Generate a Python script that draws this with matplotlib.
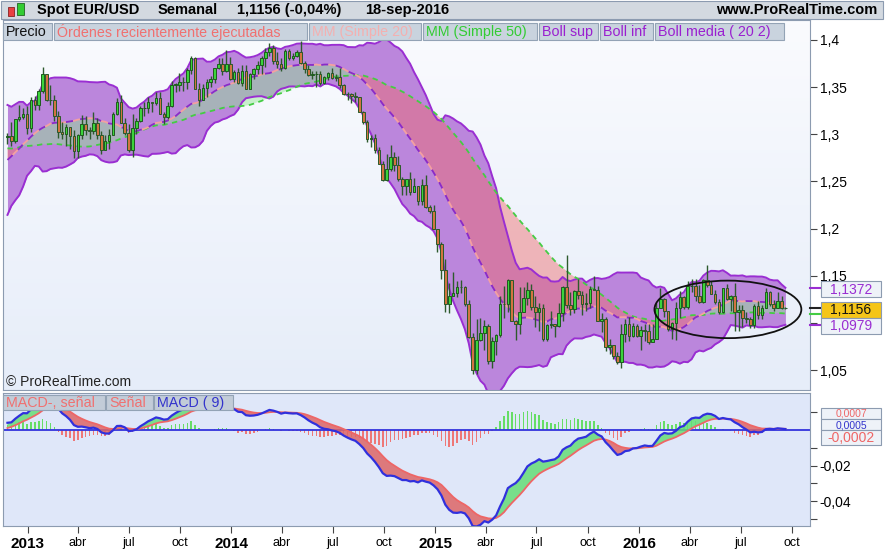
import numpy as np
import pandas as pd
import matplotlib
matplotlib.use("Agg")
import matplotlib.pyplot as plt
import matplotlib.dates as mdates
from matplotlib.patches import Ellipse, Rectangle
from matplotlib.colors import LinearSegmentedColormap
from matplotlib.ticker import FuncFormatter, FixedLocator
from matplotlib.transforms import blended_transform_factory

plt.rcParams['font.family'] = ['Liberation Sans', 'DejaVu Sans']

# weekly closes Dec 2011 - Nov 2012, not drawn, only to seed the indicators
warmup_close = [1.3390, 1.3385, 1.3040, 1.3045, 1.2960, 1.2715, 1.2680, 1.2930, 1.3215, 1.3155,
                1.3195, 1.3240, 1.3450, 1.3210, 1.3120, 1.3175, 1.3270, 1.3345, 1.3100, 1.3075,
                1.3225, 1.3235, 1.3085, 1.2920, 1.2780, 1.2515, 1.2435, 1.2515, 1.2640, 1.2570,
                1.2665, 1.2290, 1.2245, 1.2155, 1.2315, 1.2390, 1.2290, 1.2330, 1.2515, 1.2575,
                1.2815, 1.3125, 1.2980, 1.2860, 1.3035, 1.2955, 1.3025, 1.2945, 1.2835, 1.2710,
                1.2745, 1.2975]

first_week = "2012-11-26"
first_open = 1.2975

close = [1.2985, 1.2925, 1.3160, 1.3180, 1.3215,
         # 2013
         1.3070, 1.3365, 1.3315, 1.3460, 1.3640, 1.3365, 1.3360, 1.3190, 1.3020, 1.3005,
         1.3075, 1.2985, 1.2820, 1.2995, 1.3110, 1.3050, 1.3030, 1.3115, 1.2995, 1.2835,
         1.2930, 1.2995, 1.3220, 1.3345, 1.3120, 1.3010, 1.2830, 1.3065, 1.3140, 1.3280,
         1.3280, 1.3340, 1.3330, 1.3380, 1.3220, 1.3180, 1.3295, 1.3525, 1.3525, 1.3555,
         1.3550, 1.3685, 1.3805, 1.3485, 1.3365, 1.3495, 1.3555, 1.3590, 1.3705, 1.3745,
         1.3675, 1.3745,
         # 2014
         1.3590, 1.3665, 1.3540, 1.3675, 1.3485, 1.3635, 1.3690, 1.3740, 1.3805, 1.3875,
         1.3910, 1.3780, 1.3750, 1.3705, 1.3885, 1.3810, 1.3830, 1.3870, 1.3755, 1.3695,
         1.3630, 1.3635, 1.3640, 1.3545, 1.3605, 1.3645, 1.3595, 1.3605, 1.3525, 1.3430,
         1.3425, 1.3410, 1.3400, 1.3240, 1.3130, 1.2950, 1.2965, 1.2830, 1.2685, 1.2515,
         1.2630, 1.2760, 1.2670, 1.2525, 1.2455, 1.2525, 1.2390, 1.2450, 1.2290, 1.2465,
         1.2225, 1.2185,
         # 2015
         1.2000, 1.1840, 1.1565, 1.1205, 1.1290, 1.1315, 1.1385, 1.1380, 1.1195, 1.0845,
         1.0495, 1.0820, 1.0890, 1.0970, 1.0600, 1.0805, 1.0875, 1.1200, 1.1200, 1.1450,
         1.1015, 1.0985, 1.1110, 1.1265, 1.1350, 1.1165, 1.1110, 1.1160, 1.0830, 1.0980,
         1.0985, 1.0965, 1.1105, 1.1385, 1.1185, 1.1150, 1.1340, 1.1300, 1.1195, 1.1215,
         1.1360, 1.1350, 1.1015, 1.1045, 1.0740, 1.0770, 1.0645, 1.0590, 1.0880, 1.0990,
         1.0865, 1.0965,
         # 2016
         1.0865, 1.0925, 1.0915, 1.0795, 1.0830, 1.1160, 1.1255, 1.1130, 1.0935, 1.1000,
         1.1155, 1.1270, 1.1165, 1.1390, 1.1395, 1.1285, 1.1225, 1.1455, 1.1405, 1.1310,
         1.1225, 1.1115, 1.1365, 1.1255, 1.1280, 1.1115, 1.1135, 1.1050, 1.1040, 1.0975,
         1.1175, 1.1085, 1.1160, 1.1325, 1.1200, 1.1155, 1.1235, 1.1160, 1.1156]

high = [1.3015, 1.3125, 1.3165, 1.3310, 1.3275,
        1.3300, 1.3400, 1.3405, 1.3480, 1.3711, 1.3640, 1.3520, 1.3420, 1.3250, 1.3130,
        1.3110, 1.3000, 1.3050, 1.3000, 1.3200, 1.3190, 1.3080, 1.3240, 1.3175, 1.3030,
        1.2995, 1.3060, 1.3240, 1.3390, 1.3415, 1.3175, 1.3110, 1.3210, 1.3175, 1.3300,
        1.3345, 1.3400, 1.3345, 1.3450, 1.3450, 1.3240, 1.3340, 1.3570, 1.3545, 1.3645,
        1.3610, 1.3705, 1.3830, 1.3815, 1.3545, 1.3530, 1.3585, 1.3620, 1.3705, 1.3810,
        1.3810, 1.3895,
        1.3815, 1.3685, 1.3700, 1.3740, 1.3740, 1.3645, 1.3700, 1.3775, 1.3825, 1.3915,
        1.3967, 1.3945, 1.3875, 1.3810, 1.3905, 1.3905, 1.3865, 1.3890, 1.3993, 1.3775,
        1.3735, 1.3670, 1.3670, 1.3675, 1.3615, 1.3665, 1.3700, 1.3640, 1.3700, 1.3530,
        1.3445, 1.3435, 1.3445, 1.3390, 1.3245, 1.3155, 1.2990, 1.3000, 1.2860, 1.2715,
        1.2790, 1.2885, 1.2815, 1.2765, 1.2545, 1.2510, 1.2600, 1.2535, 1.2455, 1.2530,
        1.2570, 1.2255,
        1.2245, 1.1970, 1.1860, 1.1680, 1.1425, 1.1535, 1.1445, 1.1450, 1.1390, 1.1245,
        1.0890, 1.1045, 1.1050, 1.1035, 1.0990, 1.0850, 1.0880, 1.1290, 1.1390, 1.1465,
        1.1445, 1.1030, 1.1385, 1.1385, 1.1435, 1.1410, 1.1280, 1.1215, 1.1200, 1.0985,
        1.1130, 1.0990, 1.1215, 1.1390, 1.1715, 1.1330, 1.1345, 1.1460, 1.1335, 1.1320,
        1.1390, 1.1495, 1.1390, 1.1100, 1.1060, 1.0830, 1.0765, 1.0695, 1.0985, 1.1045,
        1.1060, 1.0995,
        1.0990, 1.0970, 1.0990, 1.0990, 1.0985, 1.1215, 1.1375, 1.1260, 1.1130, 1.1010,
        1.1220, 1.1340, 1.1285, 1.1440, 1.1465, 1.1465, 1.1400, 1.1460, 1.1615, 1.1445,
        1.1350, 1.1250, 1.1375, 1.1415, 1.1300, 1.1425, 1.1190, 1.1185, 1.1120, 1.1060,
        1.1200, 1.1235, 1.1190, 1.1365, 1.1340, 1.1240, 1.1330, 1.1285, 1.1165]

low = [1.2900, 1.2875, 1.2905, 1.3145, 1.3160,
       1.3000, 1.3025, 1.3255, 1.3260, 1.3440, 1.3350, 1.3310, 1.3145, 1.2965, 1.2955,
       1.2880, 1.2845, 1.2750, 1.2745, 1.2955, 1.2995, 1.2950, 1.3000, 1.2955, 1.2795,
       1.2840, 1.2845, 1.3000, 1.3205, 1.3115, 1.2990, 1.2810, 1.2755, 1.3005, 1.3125,
       1.3190, 1.3230, 1.3235, 1.3315, 1.3215, 1.3105, 1.3165, 1.3285, 1.3445, 1.3460,
       1.3460, 1.3475, 1.3640, 1.3475, 1.3295, 1.3370, 1.3400, 1.3500, 1.3540, 1.3695,
       1.3625, 1.3665,
       1.3575, 1.3550, 1.3530, 1.3510, 1.3480, 1.3475, 1.3590, 1.3640, 1.3640, 1.3710,
       1.3830, 1.3750, 1.3705, 1.3675, 1.3695, 1.3790, 1.3785, 1.3815, 1.3750, 1.3650,
       1.3615, 1.3585, 1.3505, 1.3525, 1.3535, 1.3575, 1.3585, 1.3570, 1.3490, 1.3420,
       1.3365, 1.3335, 1.3345, 1.3240, 1.3110, 1.2920, 1.2860, 1.2800, 1.2680, 1.2500,
       1.2500, 1.2615, 1.2615, 1.2500, 1.2360, 1.2355, 1.2360, 1.2385, 1.2245, 1.2245,
       1.2220, 1.2165,
       1.2000, 1.1755, 1.1460, 1.1115, 1.1100, 1.1290, 1.1270, 1.1315, 1.1175, 1.0840,
       1.0460, 1.0460, 1.0810, 1.0715, 1.0565, 1.0520, 1.0660, 1.0845, 1.1050, 1.1110,
       1.1015, 1.0820, 1.0885, 1.1130, 1.1185, 1.1135, 1.0955, 1.0915, 1.0810, 1.0810,
       1.0950, 1.0850, 1.0960, 1.1015, 1.1155, 1.1085, 1.1105, 1.1255, 1.1085, 1.1125,
       1.1160, 1.1345, 1.1015, 1.0900, 1.0705, 1.0675, 1.0615, 1.0565, 1.0525, 1.0795,
       1.0805, 1.0850,
       1.0850, 1.0710, 1.0805, 1.0775, 1.0810, 1.0855, 1.1160, 1.1065, 1.0910, 1.0825,
       1.0820, 1.1055, 1.1145, 1.1145, 1.1330, 1.1235, 1.1215, 1.1215, 1.1380, 1.1310,
       1.1200, 1.1095, 1.1100, 1.1245, 1.1130, 1.0910, 1.0910, 1.0955, 1.1000, 1.0950,
       1.0950, 1.1045, 1.1045, 1.1155, 1.1180, 1.1125, 1.1155, 1.1150, 1.1150]

header_items = ["Spot EUR/USD", "Semanal", "1,1156 (-0,04%)", "18-sep-2016"]
legend_items = [("Precio", "#111111"), ("Órdenes recientemente ejecutadas", "#f07070"),
                ("MM (Simple 20)", "#f4b0b0"), ("MM (Simple 50)", "#33cc33"),
                ("Boll sup", "#9a1fd0"), ("Boll inf", "#9a1fd0"), ("Boll media ( 20 2)", "#9a1fd0")]
macd_legend = [("MACD-, señal", "#f07070"), ("Señal", "#f07070"), ("MACD ( 9)", "#3333cc")]
price_ticks = [1.05, 1.1, 1.15, 1.2, 1.25, 1.3, 1.35, 1.4]
month_names = {1: None, 4: "abr", 7: "jul", 10: "oct"}

# ---- indicators
n_warm = len(warmup_close)
allc = pd.Series(warmup_close + close)
ma20 = allc.rolling(20).mean()
sd20 = allc.rolling(20).std(ddof=0)
ma50 = allc.rolling(50).mean()
macd = allc.ewm(span=12, adjust=False).mean() - allc.ewm(span=26, adjust=False).mean()
signal = macd.ewm(span=9, adjust=False).mean()

ma20 = ma20.values[n_warm:]
sd20 = sd20.values[n_warm:]
ma50 = ma50.values[n_warm:]
macd = macd.values[n_warm:]
signal = signal.values[n_warm:]
upper = ma20 + 2 * sd20
lower = ma20 - 2 * sd20
hist = macd - signal

c = np.array(close)
h = np.array(high)
l = np.array(low)
o = np.r_[first_open, c[:-1]]  # a weekly FX bar opens where the last one closed
dates = pd.date_range(first_week, periods=len(c), freq="7D")
x = mdates.date2num(dates)

W, H = 885, 554
fig = plt.figure(figsize=(W / 100, H / 100), dpi=100)
fig.patch.set_facecolor("white")


def fx(px):
    return px / W


def fy(py):
    return 1 - py / H


def fig_rect(x0, y0, x1, y1, fc, ec="none", lw=0.8, z=1):
    r = Rectangle((fx(x0), fy(y1)), fx(x1 - x0), (y1 - y0) / H, transform=fig.transFigure,
                  facecolor=fc, edgecolor=ec, linewidth=lw, zorder=z)
    fig.add_artist(r)


ax = fig.add_axes([fx(3), fy(390), fx(807), 370 / H])
ax2 = fig.add_axes([fx(3), fy(526), fx(807), 133 / H])

xmin = mdates.date2num(pd.Timestamp("2012-11-18"))
xmax = xmin + 1445

# background gradient of the price panel
cmap_bg = LinearSegmentedColormap.from_list("bg", ["#e6edf9", "#fafbfe"])
ax.imshow(np.linspace(0, 1, 100).reshape(-1, 1), cmap=cmap_bg, origin="lower", aspect="auto",
          extent=[0, 1, 0, 1], transform=ax.transAxes, zorder=0)

# Bollinger band and moving-average fills
ax.fill_between(x, lower, upper, color="#bb86dc", lw=0, zorder=1)
ax.fill_between(x, ma20, ma50, where=ma20 >= ma50, interpolate=True, color="#8fe88f",
                alpha=0.45, lw=0, zorder=2)
ax.fill_between(x, ma20, ma50, where=ma20 < ma50, interpolate=True, color="#f06a6a",
                alpha=0.45, lw=0, zorder=2)
ax.plot(x, upper, color="#9a2ed2", lw=1.4, zorder=3)
ax.plot(x, lower, color="#9a2ed2", lw=1.4, zorder=3)
ax.plot(x, ma50, color="#44cc44", lw=1.3, dashes=(3, 2.5), zorder=3)
ax.plot(x, ma20, color="#8a2bc8", lw=1.3, dashes=(4, 4), zorder=3)
ax.plot(x, ma20, color="#f4a0a0", lw=1.3, dashes=(0, 4, 4, 0), zorder=3)

# candles
up = c >= o
ax.vlines(x, l, h, color="#2d5a2d", lw=1.0, zorder=4)
body_lo = np.minimum(o, c)
body_h = np.maximum(np.abs(c - o), 0.0004)
ax.bar(x[up], body_h[up], bottom=body_lo[up], width=4.6, color="#3bd43b",
       edgecolor="#1f5a1f", lw=0.7, zorder=5)
ax.bar(x[~up], body_h[~up], bottom=body_lo[~up], width=4.6, color="#d27440",
       edgecolor="#2a5a2a", lw=0.7, zorder=5)

ax.add_patch(Ellipse((mdates.date2num(pd.Timestamp("2016-06-08")), 1.1143), 263, 0.061,
                     fill=False, ec="#111111", lw=1.3, zorder=6))

ax.set_xlim(xmin, xmax)
ax.set_ylim(1.0288, 1.4212)
comma = FuncFormatter(lambda v, p: ("%g" % round(v, 4)).replace(".", ","))
ax.yaxis.tick_right()
ax.yaxis.set_major_locator(FixedLocator(price_ticks))
# the 1,1 label sits under the last-value boxes
ax.yaxis.set_major_formatter(FuncFormatter(
    lambda v, p: "" if abs(v - 1.1) < 1e-9 else ("%g" % round(v, 4)).replace(".", ",")))
ax.tick_params(axis="y", direction="out", length=5, width=0.8, color="#444444",
               labelsize=10, pad=2)
ax.set_xticks([])
for s in ax.spines.values():
    s.set_color("#8c9bb0")
ax.text(0.004, 0.012, "© ProRealTime.com", transform=ax.transAxes, fontsize=10,
        color="#222222", zorder=7)

# marks of the last values on the price axis
bt = blended_transform_factory(ax.transAxes, ax.transData)
for yv, col in [(upper[-1], "#9a2ed2"), (c[-1], "#222222"), (ma50[-1], "#44cc44"),
                (lower[-1], "#9a2ed2")]:
    ax.plot([1.0, 1.012], [yv, yv], transform=bt, color=col, lw=1.5, clip_on=False, zorder=8)

# ---- MACD panel
ax2.set_facecolor("#dfe7f9")
ax2.axhline(0, color="#3333dd", lw=1.3, zorder=2)
ax2.bar(x, hist, width=2.8, color=np.where(hist >= 0, "#66dd66", "#ee7777"), lw=0, zorder=1)
ax2.fill_between(x, macd, signal, where=macd >= signal, interpolate=True, color="#66dd77",
                 alpha=0.85, lw=0, zorder=3)
ax2.fill_between(x, macd, signal, where=macd < signal, interpolate=True, color="#dd6666",
                 alpha=0.85, lw=0, zorder=3)
ax2.plot(x, signal, color="#ee6666", lw=1.3, zorder=4)
ax2.plot(x, macd, color="#3030dd", lw=1.6, zorder=5)
ax2.set_xlim(xmin, xmax)
ax2.set_ylim(-0.054, 0.0208)
ax2.yaxis.tick_right()
ax2.yaxis.set_major_locator(FixedLocator([-0.04, -0.02]))
ax2.yaxis.set_minor_locator(FixedLocator([0.01, -0.01, -0.03, -0.05]))
ax2.yaxis.set_major_formatter(comma)
ax2.tick_params(axis="y", which="both", direction="out", length=5, width=0.8,
                color="#444444", labelsize=10, pad=2)
ticks = [mdates.date2num(pd.Timestamp(yy, mm, 1)) for yy in range(2013, 2017)
         for mm in (1, 4, 7, 10)]
labels = [str(mdates.num2date(t).year) if month_names[mdates.num2date(t).month] is None
          else month_names[mdates.num2date(t).month] for t in ticks]
ax2.set_xticks(ticks)
ax2.set_xticklabels(labels)
ax2.tick_params(axis="x", direction="out", length=5, width=0.8, color="#444444", pad=3)
for t, lab in zip(ax2.get_xticklabels(), labels):
    if lab.isdigit():
        t.set_fontweight("bold")
        t.set_fontsize(11)
    else:
        t.set_fontsize(9)
for s in ax2.spines.values():
    s.set_color("#8c9bb0")

# ---- header bar
fig_rect(1, 1, 883, 19, "#d3d9e0", ec="#8c9bb0", z=1)
fig_rect(8, 7, 14, 16, "#e84040", ec="#882222", lw=0.6, z=2)
fig_rect(17, 3, 24, 15, "#33cc33", ec="#226622", lw=0.6, z=2)
hx = [37, 158, 237, 365]
for xp, txt in zip(hx, header_items):
    fig.text(fx(xp), fy(10), txt, fontsize=10.5, fontweight="bold", va="center", ha="left")
fig.text(fx(877), fy(10), "www.ProRealTime.com", fontsize=10.5, fontweight="bold",
         va="center", ha="right")

# legend boxes of the price panel
lx = [3, 54, 309, 423, 539, 600, 655, 786]
for i, (txt, col) in enumerate(legend_items):
    fig_rect(lx[i], 23, lx[i + 1] - 2, 40, "#c9d3de", ec="#93a3b5", z=2)
    fig.text(fx(lx[i] + 3), fy(32), txt, fontsize=10.3, color=col, va="center", ha="left",
             zorder=3)

# legend boxes of the MACD panel
mx = [3, 106, 154, 234]
for i, (txt, col) in enumerate(macd_legend):
    fig_rect(mx[i], 395, mx[i + 1] - 1, 410, "#c2ccd8", ec="#93a3b5", z=2)
    fig.text(fx(mx[i] + 3), fy(403), txt, fontsize=10.3, color=col, va="center", ha="left",
             zorder=3)

# last-value boxes on the right
for y0, y1, txt, fc, tc, fs in [(281, 297, "1,1372", "#eef2f8", "#9a2ed2", 10),
                                (302, 318, "1,1156", "#f5c518", "#111111", 10),
                                (318, 334, "1,0979", "#eef2f8", "#9a2ed2", 10),
                                (408, 419, "0,0007", "#eef2f8", "#ee6666", 7.5),
                                (419, 430, "0,0005", "#eef2f8", "#3333cc", 7.5),
                                (430, 445, "-0,0002", "#eef2f8", "#ee6666", 10)]:
    fig_rect(821, y0, 881, y1, fc, ec="#8c9bb0", z=4)
    fig.text(fx(851), fy((y0 + y1) / 2 + 0.5), txt, fontsize=fs, color=tc, va="center",
             ha="center", zorder=5)

fig.savefig("out.png", dpi=100)
